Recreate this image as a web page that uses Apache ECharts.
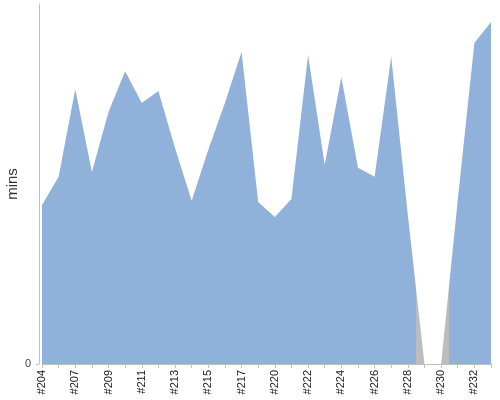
<!DOCTYPE html>
<html>
<head>
<meta charset="utf-8">
<script src="https://cdn.jsdelivr.net/npm/echarts@6/dist/echarts.min.js"></script>
<style>
html,body{margin:0;padding:0;background:#fff;}
#chart{width:500px;height:400px;}
</style>
</head>
<body>
<div id="chart"></div>
<script>
const builds = ['#204','#205','#207','#208','#209','#210','#211','#212','#213','#214','#215','#216','#217','#218','#220','#221','#222','#223','#224','#225','#226','#227','#228','#229','#230','#231','#232','#233'];
const durations = [26.5,31.2,45.8,32.0,42.0,48.8,43.5,45.5,36.0,27.2,35.7,43.5,52.0,27.0,24.5,27.5,51.5,33.2,47.8,32.7,31.2,51.2,24.8,0,0,27.3,53.5,57.0];
const statuses = ['ok','ok','ok','ok','ok','ok','ok','ok','ok','ok','ok','ok','ok','ok','ok','ok','ok','ok','ok','ok','ok','ok','ok','failed','failed','ok','ok','ok'];
const statusColors = { ok: '#8fb1da', failed: '#bdbdbd' };

// horizontal gradient with hard stops: each build coloured half a category either side
const n = statuses.length;
const stops = [{ offset: 0, color: statusColors[statuses[0]] }];
for (let i = 1; i < n; i++) {
  if (statuses[i] !== statuses[i - 1]) {
    const off = (i - 0.5) / (n - 1);
    stops.push({ offset: off, color: statusColors[statuses[i - 1]] });
    stops.push({ offset: off, color: statusColors[statuses[i]] });
  }
}
stops.push({ offset: 1, color: statusColors[statuses[n - 1]] });

const chart = echarts.init(document.getElementById('chart'), null, { renderer: 'canvas' });
chart.setOption({
  animation: false,
  backgroundColor: '#ffffff',
  textStyle: { fontFamily: 'Liberation Sans, Arial, sans-serif' },
  grid: { left: 42, right: 9, top: 4, bottom: 36, containLabel: false, outerBoundsMode: 'none' },
  xAxis: {
    type: 'category',
    data: builds,
    boundaryGap: false,
    axisLine: { show: true, lineStyle: { color: '#c0c0c0', width: 1 } },
    axisTick: { show: true, interval: 0, length: 4, lineStyle: { color: '#c0c0c0' } },
    axisLabel: { interval: 1, rotate: 90, margin: 6, fontSize: 11, color: '#222', fontFamily: 'Liberation Sans, Arial, sans-serif' },
    splitLine: { show: false }
  },
  yAxis: {
    type: 'value',
    min: 0,
    max: 60,
    offset: 3,
    name: 'mins',
    nameLocation: 'middle',
    nameGap: 19,
    nameMoveOverlap: false,
    nameTextStyle: { fontSize: 15, color: '#333', fontFamily: 'Liberation Sans, Arial, sans-serif' },
    axisLine: { show: true, lineStyle: { color: '#c0c0c0', width: 1 } },
    axisTick: { show: true, length: 3, customValues: [0], lineStyle: { color: '#c0c0c0' } },
    axisLabel: { customValues: [0], margin: 8, fontSize: 11, color: '#444', fontFamily: 'Liberation Sans, Arial, sans-serif' },
    splitLine: { show: false }
  },
  series: [{
    type: 'line',
    data: durations,
    symbol: 'none',
    lineStyle: { width: 0 },
    areaStyle: { opacity: 1, color: new echarts.graphic.LinearGradient(0, 0, 1, 0, stops) },
    z: 1
  }]
});
</script>
</body>
</html>
